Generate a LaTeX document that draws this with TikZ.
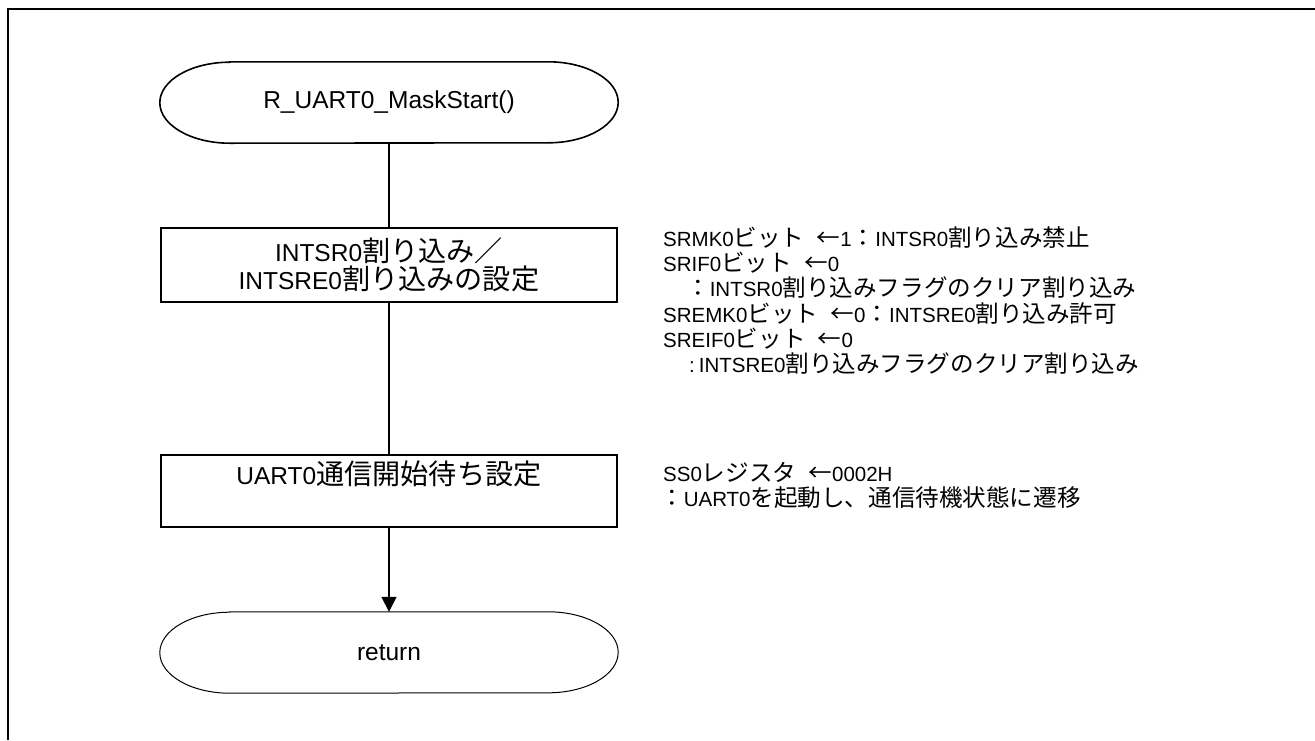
\documentclass[tikz,border=0pt]{standalone}
\usepackage{fontspec}
\setmainfont{Liberation Sans}
\newfontfamily\jpfont[Scale=1.15]{Noto Sans CJK JP}
\newcommand{\J}[1]{{\jpfont #1}}
\newcommand{\gap}{\hspace{0.6em}}
\usetikzlibrary{arrows.meta}
\begin{document}
\begin{tikzpicture}[x=1pt,y=1pt,
  proc/.style={draw,line width=1.6pt,minimum width=456pt,minimum height=74pt,inner sep=0pt,font=\fontsize{24.5}{28}\selectfont,align=center},
  term/.style={minimum width=458pt,minimum height=81pt,inner sep=0pt,font=\fontsize{24.5}{28}\selectfont},
  flow/.style={line width=1.6pt},
  note/.style={anchor=base west,inner sep=0pt,font=\fontsize{20.5}{25}\selectfont},
  frame/.style={line width=2.8pt}
]
\useasboundingbox (0,0) rectangle (1315,-740);
\draw[frame] (1315,-9) -- (8,-9) -- (8,-740);

% start terminator
\node[term] (start) at (389,-102.5) {R\_UART0\_MaskStart()};
\draw[line width=1.6pt] ([xshift=70pt]start.north west) -- ([xshift=-70pt]start.north east)
  arc[start angle=90,end angle=-90,x radius=70pt,y radius=40.5pt]
  -- ([xshift=70pt]start.south west)
  arc[start angle=270,end angle=90,x radius=70pt,y radius=40.5pt] -- cycle;

% process 1
\node[proc] (box1) at (389,-265) {INTSR0\J{割り込み／}\\INTSRE0\J{割り込みの設定}};

% process 2
\node[proc,minimum height=72pt] (box2) at (389,-491) {};
\node[font=\fontsize{24.5}{28}\selectfont,inner sep=0pt] (box2t) at (389,-474) {UART0\J{通信開始待ち設定}};

% return terminator
\node[term] (ret) at (389,-652.5) {return};
\draw[line width=1pt] ([xshift=70pt]ret.north west) -- ([xshift=-70pt]ret.north east)
  arc[start angle=90,end angle=-90,x radius=70pt,y radius=40.5pt]
  -- ([xshift=70pt]ret.south west)
  arc[start angle=270,end angle=90,x radius=70pt,y radius=40.5pt] -- cycle;

% connectors
\draw[flow] (start.south) -- (box1.north);
\draw[flow] (box1.south) -- (box2.north);
\draw[flow,-{Triangle[length=15pt,width=15pt]}] (box2.south) -- (ret.north);

% notes
\node[note] (n1) at (663,-246) {SRMK0\J{ビット}\gap\J{←}1\J{：}INTSR0\J{割り込み禁止}};
\node[note] (n2) at (663,-271) {SRIF0\J{ビット}\gap\J{←}0};
\node[note] (n3) at (686,-296) {\J{：}INTSR0\J{割り込みフラグのクリア割り込み}};
\node[note] (n4) at (663,-322) {SREMK0\J{ビット}\gap\J{←}0\J{：}INTSRE0\J{割り込み許可}};
\node[note] (n5) at (663,-347) {SREIF0\J{ビット}\gap\J{←}0};
\node[note] (n6) at (689,-372) {:\hspace{4pt}INTSRE0\J{割り込みフラグのクリア割り込み}};
\node[note] (n7) at (663,-481) {SS0\J{レジスタ}\gap\J{←}0002H};
\node[note] (n8) at (660,-506) {\J{：}UART0\J{を起動し、通信待機状態に遷移}};
\end{tikzpicture}
\end{document}
